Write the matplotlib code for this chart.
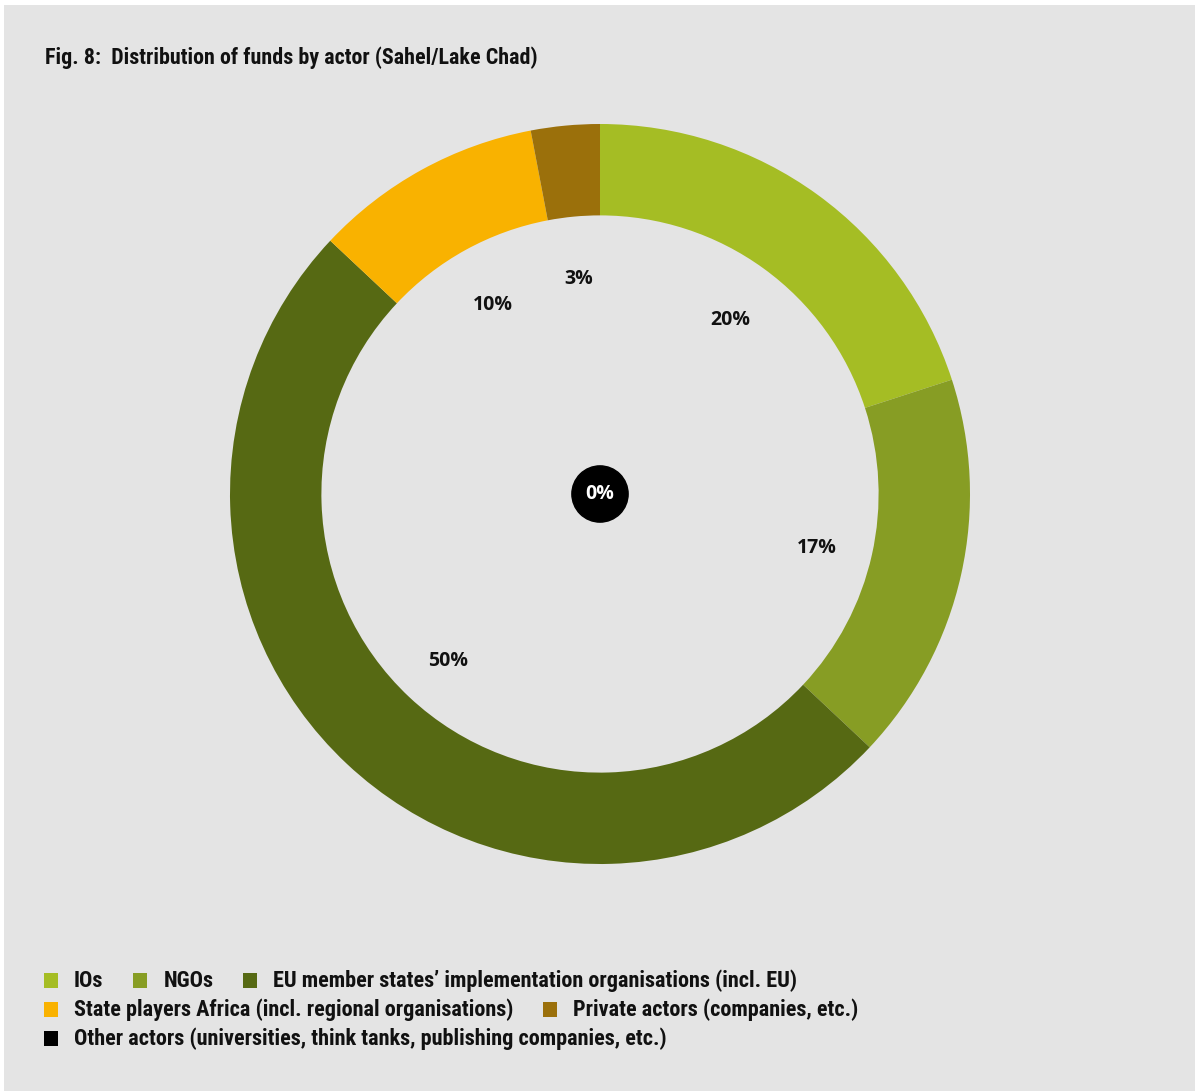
import matplotlib
matplotlib.use("Agg")
import numpy as np
import matplotlib.pyplot as plt
from matplotlib import font_manager
from matplotlib.font_manager import FontProperties
from matplotlib.patches import Rectangle, Circle

# funds by actor, share in percent
actors = [
    "IOs",
    "NGOs",
    "EU member states\u2019 implementation organisations (incl. EU)",
    "State players Africa (incl. regional organisations)",
    "Private actors (companies, etc.)",
    "Other actors (universities, think tanks, publishing companies, etc.)",
]
shares = [20, 17, 50, 10, 3, 0]
colors = ["#a5bd24", "#879d24", "#566913", "#f9b200", "#9b700b", "#000000"]
legend_rows = [[0, 1, 2], [3, 4], [5]]
title = "Fig. 8:  Distribution of funds by actor (Sahel/Lake Chad)"

# narrow bold face for title and legend, if one is installed
cond_file = None
for f in font_manager.fontManager.ttflist:
    fn = f.fname.lower()
    if ("narrow" in fn or "condensed" in fn) and "bold" in fn and "oblique" not in fn and "italic" not in fn:
        cond_file = f.fname
        if "liberation" in fn:
            break


def cond_font(size):
    if cond_file:
        return FontProperties(fname=cond_file, size=size)
    return FontProperties(family="DejaVu Sans", weight="bold", size=size)


label_font = FontProperties(family=["Open Sans", "DejaVu Sans"], weight="bold", size=14)

BG = "#e4e4e4"
W, H = 1195, 1091
fig = plt.figure(figsize=(W / 100, H / 100), dpi=100, facecolor="white")
fig.patches.append(Rectangle((4 / W, 0), 1, 1 - 5 / H, transform=fig.transFigure,
                             facecolor=BG, edgecolor="none", zorder=-5))

# square axes, centre (600, 494) px, outer radius 370 px
cx, cy, r = 600, 494, 370
ax = fig.add_axes([(cx - r) / W, (H - cy - r) / H, 2 * r / W, 2 * r / H])

ax.pie(shares, colors=colors, radius=1, startangle=90, counterclock=False,
       wedgeprops=dict(width=0.247, linewidth=0))
ax.set_xlim(-1, 1)
ax.set_ylim(-1, 1)
ax.axis("off")

# percentage labels inside the ring
total = sum(shares)
acc = 0
for v in shares[:-1]:
    mid = np.deg2rad(90 - (acc + v / 2) / total * 360)
    ax.text(0.6 * np.cos(mid), 0.6 * np.sin(mid) - 0.015, f"{v}%", ha="center", va="center",
            fontproperties=label_font, color="#111111")
    acc += v

# empty category shown as a dot in the middle
ax.add_patch(Circle((0, 0), 0.076, color=colors[-1], zorder=3))
ax.text(0, 0, f"{shares[-1]}%", ha="center", va="center", color="white",
        fontproperties=label_font, zorder=4)

fig.text(45 / W, 1 - 58 / H, title, ha="left", va="center",
         fontproperties=cond_font(15.8), color="#111111")

# legend rows, laid out from text widths
fig.canvas.draw()
renderer = fig.canvas.get_renderer()
row_y = [981, 1010, 1039]
for row, y in zip(legend_rows, row_y):
    x = 44
    for i in row:
        fig.patches.append(Rectangle((x / W, 1 - (y + 7) / H), 14 / W, 15 / H,
                                     transform=fig.transFigure, facecolor=colors[i],
                                     edgecolor="none"))
        t = fig.text((x + 30) / W, 1 - y / H, actors[i], ha="left", va="center",
                     fontproperties=cond_font(16), color="#111111")
        bb = t.get_window_extent(renderer)
        x = bb.x1 + 30

fig.savefig("out.png", dpi=100, facecolor="white")
